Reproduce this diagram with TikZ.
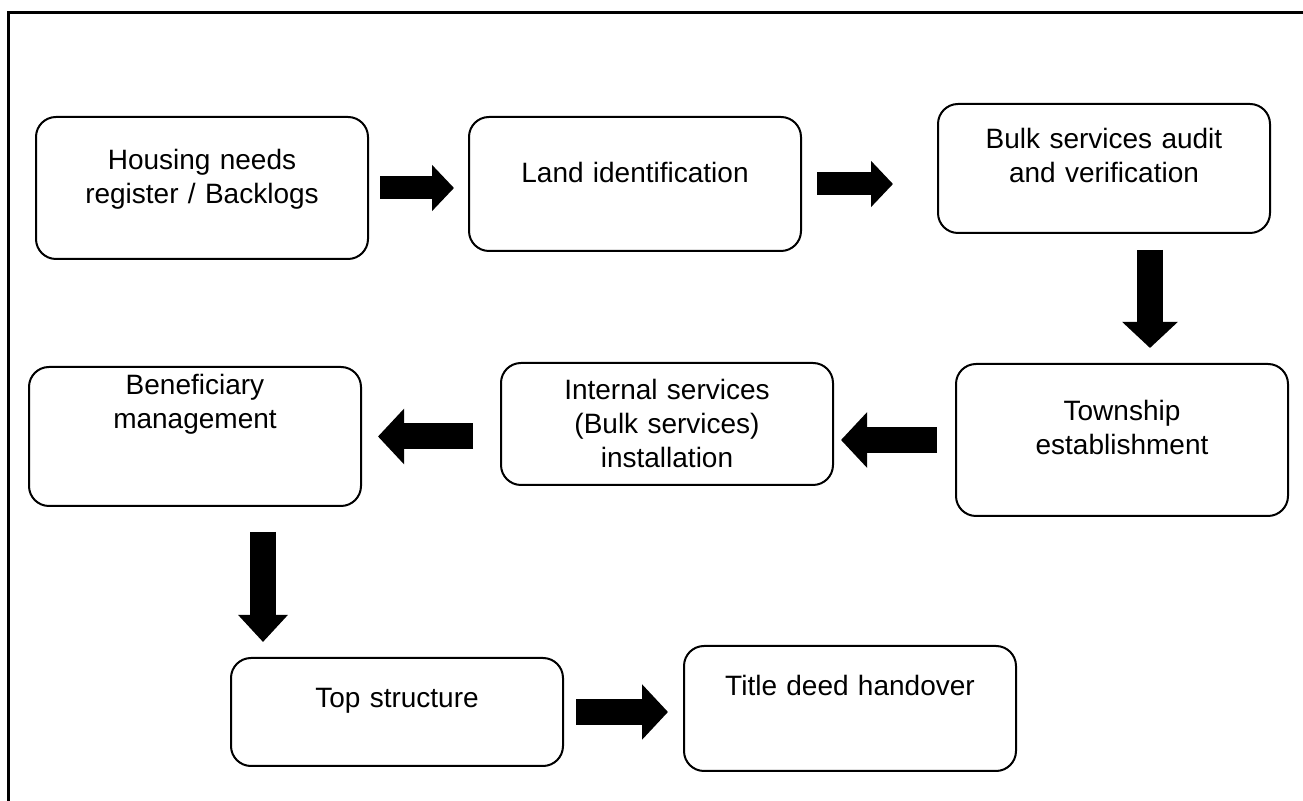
\documentclass[tikz,border=0pt]{standalone}
\usepackage{fontspec}
\setmainfont{Liberation Sans}
\usetikzlibrary{arrows.meta}

\tikzset{
	box/.style = {draw, line width = 1pt, rounded corners = 10pt, inner sep = 0pt, text width = 166pt, align = center, anchor = north west, font = \fontsize{14}{17}\selectfont},
	bigarrow/.style = {line width = 13pt, -{Triangle[length = 13pt, width = 27pt]}},
	frame/.style = {line width = 1.5pt}
}

\begin{document}
\begin{tikzpicture}[x = 0.5pt, y = -0.5pt]

	\useasboundingbox (0, 0) rectangle (1303, 801);

	% Frame (cut at the right and bottom)

	\draw [frame] (8, 801) |- (1303, 13);

	% The boxes

	\node [box, text height = 26.5pt, text depth = 44.5pt] (housing) at (35, 116) {Housing needs\\register / Backlogs};
	\node [box, text height = 33pt, text depth = 34pt] (land) at (468, 116) {Land identification};
	\node [box, text height = 22.5pt, text depth = 42pt] (bulk) at (937, 103) {Bulk services audit\\and verification};
	\node [box, text height = 28.5pt, text depth = 47.5pt] (township) at (955, 363) {Township\\establishment};
	\node [box, text height = 18.5pt, text depth = 42.5pt] (internal) at (500, 362) {Internal services\\(Bulk services)\\installation};
	\node [box, text height = 14pt, text depth = 55.5pt] (beneficiary) at (28, 366) {Beneficiary\\management};
	\node [box, text height = 25pt, text depth = 29pt] (structure) at (230, 657) {Top structure};
	\node [box, text height = 25pt, text depth = 37.5pt] (title) at (683, 645) {Title deed handover};

	% Arrows

	\draw [bigarrow, line width = 11.5pt, -{Triangle[length = 11pt, width = 22.5pt]}, shorten < = 5.5pt, shorten > = 7pt] (housing.east) -- (housing.east -| land.west);
	\draw [bigarrow, line width = 11.5pt, -{Triangle[length = 11pt, width = 22.5pt]}, shorten < = 7.5pt, shorten > = 22pt] (land.east) -- (land.east -| bulk.west);
	\draw [bigarrow, shorten < = 8pt, shorten > = 7.5pt] ([xshift = 23pt] bulk.south) -- ([xshift = 23pt] bulk.south |- township.north);
	\draw [bigarrow, shorten < = 9pt, shorten > = 3.5pt] (township.west) -- (township.west -| internal.east);
	\draw [bigarrow, shorten < = 13.5pt, shorten > = 8pt] (beneficiary.east -| internal.west) -- (beneficiary.east);
	\draw [bigarrow, -{Triangle[length = 13.5pt, width = 24pt]}, shorten < = 12.5pt, shorten > = 7.5pt] ([xshift = 34pt] beneficiary.south) -- ([xshift = 34pt] beneficiary.south |- structure.north);
	\draw [bigarrow, shorten < = 6pt, shorten > = 7.5pt] (structure.east) -- (structure.east -| title.west);

\end{tikzpicture}
\end{document}
